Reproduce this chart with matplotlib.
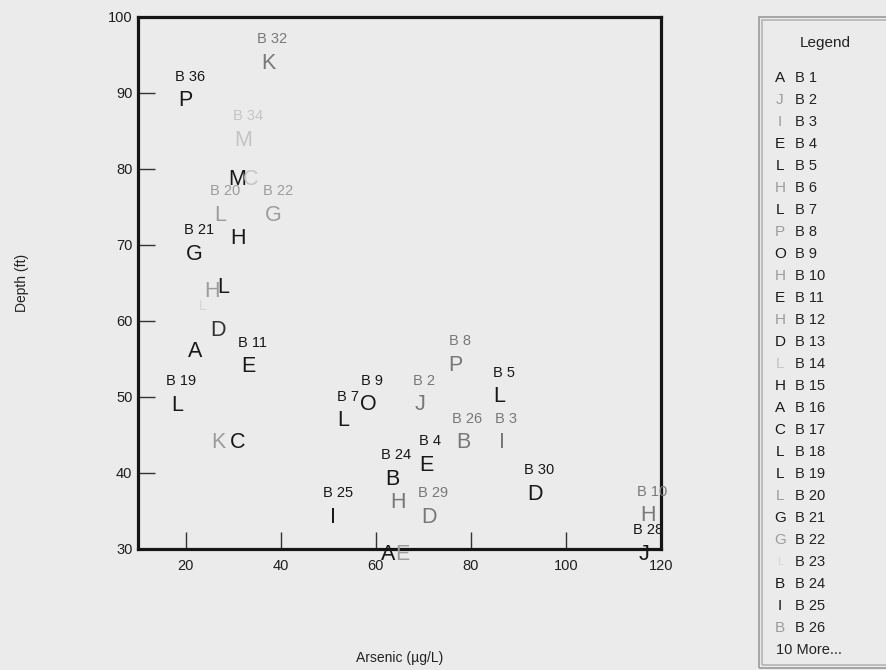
import matplotlib.pyplot as plt
from matplotlib.patches import Rectangle

# well symbols, labels and readings (arsenic in ug/L, depth in ft)
symbols = ["K", "P", "M", "M", "C", "L", "G", "G", "H", "L", "H", "L",
           "D", "A", "E", "L", "K", "C", "L", "O", "J", "P", "L", "B",
           "I", "E", "B", "H", "D", "I", "D", "H", "J", "A", "E"]
wells = ["B 32", "B 36", "B 34", "", "", "B 20", "B 22", "B 21", "", "", "", "",
         "", "", "B 11", "B 19", "", "", "B 7", "B 9", "B 2", "B 8", "B 5", "B 26",
         "B 3", "B 4", "B 24", "", "B 29", "B 25", "B 30", "B 10", "B 28", "", ""]
arsenic = [37.4, 20.0, 32.2, 30.9, 33.7, 27.4, 38.5, 21.9, 31.1, 28.0, 25.5, 23.6,
           26.9, 22.1, 33.3, 18.2, 26.9, 30.9, 53.2, 58.4, 69.3, 76.8, 86.0, 78.4,
           86.6, 70.6, 63.5, 64.7, 71.1, 51.1, 93.5, 117.3, 116.4, 62.6, 65.6]
depth = [94.2, 89.3, 84.1, 78.9, 78.9, 74.2, 74.2, 69.1, 71.2, 64.7, 64.2, 62.1,
         59.1, 56.3, 54.3, 49.2, 44.3, 44.3, 47.2, 49.3, 49.3, 54.5, 50.3, 44.3,
         44.3, 41.3, 39.5, 36.4, 34.5, 34.5, 37.5, 34.7, 29.6, 29.6, 29.6]

legend_symbols = ["A", "J", "I", "E", "L", "H", "L", "P", "O", "H", "E", "H", "D",
                  "L", "H", "A", "C", "L", "L", "L", "G", "G", "L", "B", "I", "B"]
legend_wells = ["B %d" % i for i in range(1, 27)]

x_ticks = [20, 40, 60, 80, 100, 120]
y_ticks = [30, 40, 50, 60, 70, 80, 90, 100]

# print tone of each symbol (the scan is uneven)
TONES = {"dark": "#181818", "mid": "#333333", "gray": "#787878",
         "light": "#9c9c9c", "faint": "#c4c4c4", "ghost": "#d6d6d6"}
point_tone = ["gray", "dark", "faint", "dark", "faint", "light", "light", "dark",
              "dark", "dark", "light", "ghost", "mid", "dark", "dark", "dark",
              "light", "dark", "dark", "dark", "gray", "gray", "dark", "gray",
              "gray", "dark", "dark", "gray", "gray", "dark", "dark", "gray",
              "dark", "dark", "light"]
legend_tone = ["dark", "light", "light", "dark", "dark", "light", "dark", "light",
               "dark", "light", "dark", "light", "dark", "faint", "dark", "dark",
               "dark", "dark", "dark", "light", "dark", "light", "ghost", "dark",
               "dark", "light"]

BG = "#ebebeb"
FONT = "Liberation Sans"
SYM_SIZE = 15.5
LBL_SIZE = 10.5

plt.rcParams["font.family"] = FONT

fig = plt.figure(figsize=(8.87, 6.70), dpi=100, facecolor=BG)
ax = fig.add_axes([138 / 887, 1 - 549 / 670, 523 / 887, 532 / 670])
ax.set_facecolor(BG)

sym_cap = 0.72 * SYM_SIZE
lbl_cap = 0.72 * LBL_SIZE
for s, w, x, y, t in zip(symbols, wells, arsenic, depth, point_tone):
    size = 10 if t == "ghost" else SYM_SIZE
    ax.annotate(s, (x, y), xytext=(0, -0.36 * size), textcoords="offset points",
                ha="center", va="baseline", fontsize=size, color=TONES[t],
                annotation_clip=False)
    if w:
        ax.annotate(w, (x, y), xytext=(3, 16.5 - lbl_cap / 2),
                    textcoords="offset points", ha="center", va="baseline",
                    fontsize=LBL_SIZE, color=TONES[t], annotation_clip=False)

ax.set_xlim(10, 120)
ax.set_ylim(30, 100)
ax.set_xticks(x_ticks)
ax.set_yticks(y_ticks)
ax.tick_params(direction="in", length=12, width=1.0, color="#333333",
               labelsize=10.5, labelcolor="#1e1e1e")
ax.tick_params(axis="x", pad=7)
ax.tick_params(axis="y", pad=4)
for sp in ax.spines.values():
    sp.set_linewidth(2.3)
    sp.set_color("#151515")

ax.set_xlabel("Arsenic (µg/L)", fontsize=10, color="#222222")
ax.set_ylabel("Depth (ft)", fontsize=10, color="#222222")
ax.xaxis.set_label_coords(0.5, -0.205)
ax.yaxis.set_label_coords(-0.222, 0.5)
ax.xaxis.label.set_va("center")
ax.yaxis.label.set_va("center")

# legend panel on the right, partly cut by the page edge (double grey rule)
for off, col in [(0, "#9a9a9a"), (3, "#b4b4b4")]:
    fig.patches.append(Rectangle(((759 + off) / 887, (2 + off) / 670), 0.3,
                                 (651 - 2 * off) / 670,
                                 transform=fig.transFigure, fill=False,
                                 edgecolor=col, linewidth=1.2))
fig.text(825 / 887, 1 - 43 / 670, "Legend", ha="center", va="center",
         fontsize=11, color="#222222")
for i, (s, w, t) in enumerate(zip(legend_symbols, legend_wells, legend_tone)):
    yy = 1 - (78 + 22 * i) / 670
    fig.text(780 / 887, yy, s, ha="center", va="center",
             fontsize=8 if t == "ghost" else 11, color=TONES[t])
    fig.text(795 / 887, yy, w, ha="left", va="center", fontsize=10.5,
             color="#222222")
fig.text(776 / 887, 1 - 650 / 670, "10 More...", ha="left", va="center",
         fontsize=10.5, color="#222222")

fig.savefig("out.png", dpi=100, facecolor=BG)
